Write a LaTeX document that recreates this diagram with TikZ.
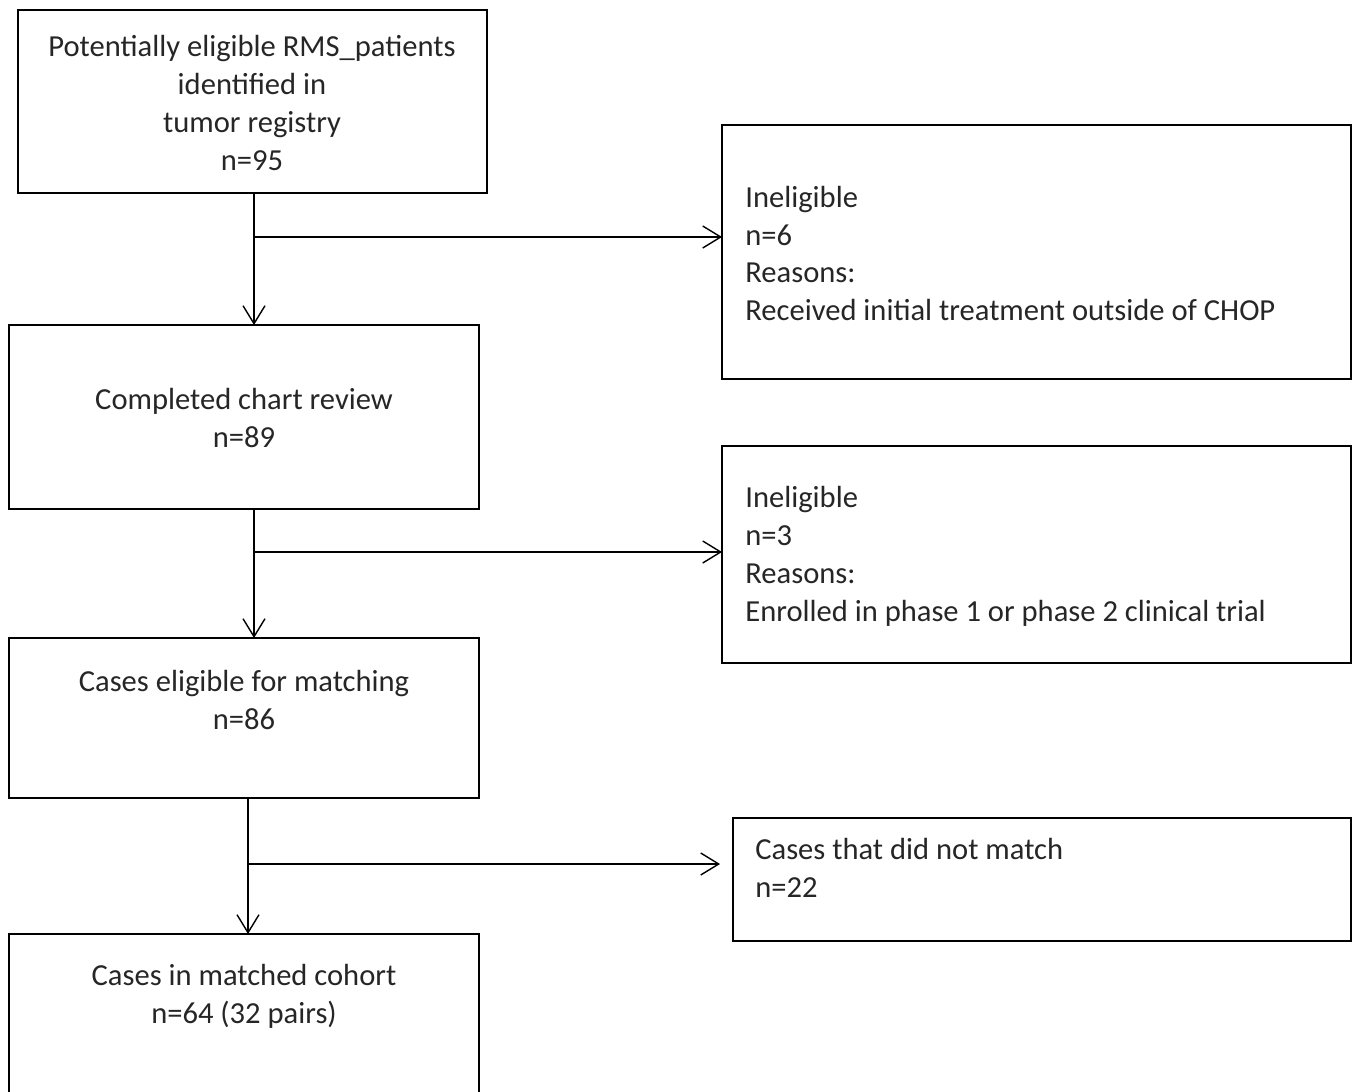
\documentclass[tikz,border=0pt]{standalone}
\usepackage{fontspec}
\setmainfont{Carlito}
\usepackage{tikz}
\usetikzlibrary{arrows.meta,positioning,calc}

\tikzset{
  box/.style={draw,line width=1.2pt,inner sep=0pt,outer sep=0pt},
  txt/.style={inner sep=0pt,text=black!85,font=\fontsize{17.4}{21.6}\selectfont},
  flow/.style={line width=0.8pt,-{Straight Barb[length=3.6mm,width=4.4mm]}}
}

\begin{document}
\begin{tikzpicture}[x=0.02cm,y=-0.02cm]
\useasboundingbox (0,0) rectangle (1357,1092);
% left column
\node[box,minimum width=9.38cm,minimum height=3.66cm] (reg) at (252.5,101.5) {};
\node[box,minimum width=9.40cm,minimum height=3.68cm] (chart) at (244,417) {};
\node[box,minimum width=9.40cm,minimum height=3.20cm] (elig) at (244,718) {};
\node[box,minimum width=9.40cm,minimum height=3.20cm] (cohort) at (244,1014) {};
% right column
\node[box,minimum width=12.58cm,minimum height=5.08cm] (inel1) at (1036.5,252) {};
\node[box,minimum width=12.58cm,minimum height=4.34cm] (inel2) at (1036.5,554.5) {};
\node[box,minimum width=12.36cm,minimum height=2.46cm] (nomatch) at (1042,879.5) {};
% texts
\node[txt,align=center] (regt) at (252,103) {Potentially eligible RMS\_patients\\identified in\\tumor registry\\n=95};
\node[txt,align=center] (chartt) at (244,418) {Completed chart review\\n=89};
\node[txt,align=center] (eligt) at (244,700) {Cases eligible for matching\\n=86};
\node[txt,align=center] (cohortt) at (244,996) {Cases in matched cohort\\n=64 (32 pairs)};
\node[txt,align=left,anchor=west] (inel1t) at (745,253.5) {Ineligible\\n=6\\Reasons:\\Received initial treatment outside of CHOP};
\node[txt,align=left,anchor=west] (inel2t) at (745,556) {Ineligible\\n=3\\Reasons:\\Enrolled in phase 1 or phase 2 clinical trial};
\node[txt,align=left,anchor=west] (nomatcht) at (755,868) {Cases that did not match\\n=22};
% junctions
\coordinate (j1) at (254,237);
\coordinate (j2) at (254,552);
\coordinate (j3) at (248,864);
\draw[flow] (reg.south -| j1) -- (j1 |- chart.north);
\draw[flow] (j1) -- (j1 -| inel1.west);
\draw[flow] (chart.south -| j2) -- (j2 |- elig.north);
\draw[flow] (j2) -- (j2 -| inel2.west);
\draw[flow] (elig.south -| j3) -- (j3 |- cohort.north);
\draw[flow,shorten >=0.26cm] (j3) -- (j3 -| nomatch.west);
\end{tikzpicture}
\end{document}
